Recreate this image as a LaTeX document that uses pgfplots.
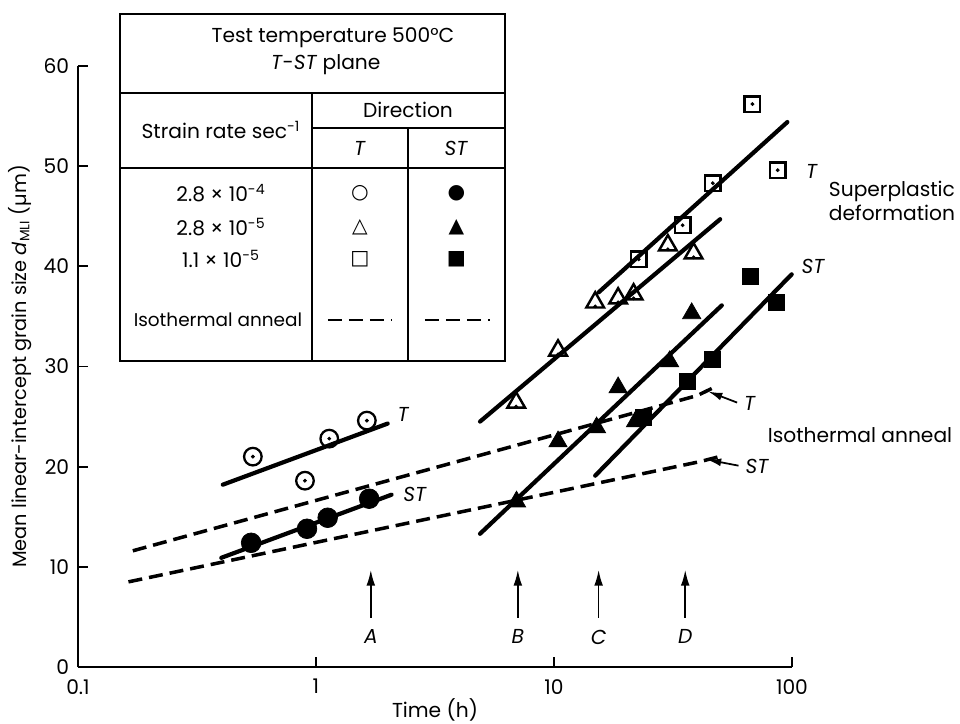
\documentclass[border=0pt]{standalone}
\usepackage{fontspec}
\setmainfont{Poppins}
\newfontfamily\symfont{DejaVu Sans}
\usepackage{pgfplots}
\usepackage{pgfplotstable}
\pgfplotsset{compat=1.18}
\usetikzlibrary{arrows.meta}

% open/filled markers: T and ST directions
\pgfplotstableread{
x y
0.543 21.0
0.899 18.6
1.137 22.8
1.636 24.6
}\opencirc
\pgfplotstableread{
x y
0.534 12.4
0.917 13.8
1.12 14.9
1.673 16.8
}\fillcirc
\pgfplotstableread{
x y
6.94 26.4
10.4 31.6
14.9 36.4
18.6 36.8
21.6 37.2
30.1 42.1
38.6 41.3
}\opentri
\pgfplotstableread{
x y
6.96 16.5
10.4 22.5
15.1 23.9
18.6 27.9
22.0 24.5
30.6 30.5
37.9 35.3
}\filltri
\pgfplotstableread{
x y
22.7 40.7
34.7 44.1
46.5 48.3
68.2 56.2
87.1 49.6
}\opensq
\pgfplotstableread{
x y
23.8 24.9
36.2 28.5
46.1 30.7
66.7 39.0
86.3 36.4
}\fillsq

\begin{document}
\fontsize{11.5}{13.5}\selectfont
\begin{tikzpicture}
\begin{axis}[
  scale only axis, width=14.28cm, height=12.02cm,
  xmode=log, xmin=0.1, xmax=100, ymin=0, ymax=60,
  axis x line*=bottom, axis y line*=left,
  axis line style={line width=1.6pt,-},
  xtick={0.1,1,10,100}, xticklabels={0.1,1,10,100},
  xminorticks=false,
  ytick={0,10,...,60},
  tick align=inside, major tick length=0.2cm,
  tick style={line width=1pt,black},
  /pgf/number format/assume math mode=true,
  tick label style={font=\fontsize{11.5}{13.5}\selectfont},
  xticklabel style={yshift=-3pt},
  yticklabel style={xshift=-1pt},
  xlabel={Time (h)},
  ylabel={Mean linear-intercept grain size \textit{d}\textsubscript{MLI} (µm)},
  xlabel style={at={(rel axis cs:0.5,-0.0715)},anchor=center},
  ylabel style={at={(rel axis cs:-0.0812,0.5)},anchor=center,font=\fontsize{11}{13}\selectfont},
  clip=false,
]
% fitted lines
\addplot[line width=2.4pt,line cap=round] coordinates {(0.406,18.2) (2.00,24.3)};
\addplot[line width=2.4pt,line cap=round] coordinates {(0.400,10.9) (2.077,17.2)};
\addplot[line width=2.4pt,line cap=round] coordinates {(4.89,24.5) (49.9,44.7)};
\addplot[line width=2.4pt,line cap=round] coordinates {(15.4,37.4) (95.6,54.4)};
\addplot[line width=2.4pt,line cap=round] coordinates {(4.89,13.3) (50.7,36.1)};
\addplot[line width=2.4pt,line cap=round] coordinates {(14.9,19.1) (99.7,39.2)};
% isothermal anneal
\addplot[line width=2pt,dash pattern=on 0.28cm off 0.14cm] coordinates {(0.17,11.6) (40,27.1) (46,27.8)};
\addplot[line width=2pt,dash pattern=on 0.28cm off 0.14cm] coordinates {(0.163,8.5) (41,20.5) (51.4,21.1)};

% markers
\addplot[only marks,mark=*,mark size=5.6pt,fill=black] table {\fillcirc};
\addplot[only marks,mark=triangle*,mark size=6pt,fill=black] table {\filltri};
\addplot[only marks,mark=square*,mark size=4.6pt,fill=black] table {\fillsq};
\addplot[only marks,mark=o,mark size=5pt,mark options={line width=1.3pt,fill=white}] table {\opencirc};
\addplot[only marks,mark=triangle,mark size=5.8pt,mark options={line width=1.4pt,fill=white}] table {\opentri};
\addplot[only marks,mark=square,mark size=4.4pt,mark options={line width=1.4pt,fill=white}] table {\opensq};
\addplot[only marks,mark=*,mark size=0.9pt] table {\opencirc};
\addplot[only marks,mark=*,mark size=0.9pt] table[y expr=\thisrow{y}-0.4] {\opentri};
\addplot[only marks,mark=*,mark size=0.9pt] table {\opensq};

% arrows A-D
\foreach \xx/\lab in {1.70/A,7.05/B,15.4/C,35.6/D}{
  \edef\temp{\noexpand\draw[-{Latex[length=9pt,width=5pt]},line width=1pt] (axis cs:\xx,4.9) -- (axis cs:\xx,9.7);
    \noexpand\node[font=\noexpand\itshape] at (axis cs:\xx,3.0) {\lab};}
  \temp
}

% line labels
\node[font=\itshape] at (axis cs:2.32,25.2) {T};
\node[font=\itshape] at (axis cs:2.60,17.2) {ST};
\node[font=\itshape] at (axis cs:121,49.5) {T};
\node[font=\itshape] at (axis cs:122.5,40.0) {ST};
\draw[-{Latex[length=8pt,width=4.5pt]},line width=1pt] (axis cs:58.8,26.4) -- (axis cs:44.5,27.5);
\node[font=\itshape,anchor=west] at (axis cs:58.8,26.3) {T};
\draw[-{Latex[length=8pt,width=4.5pt]},line width=1pt] (axis cs:59.6,20.1) -- (axis cs:44,20.7);
\node[font=\itshape,anchor=west] at (axis cs:59.6,20.0) {ST};
\node[align=center] at (rel axis cs:1.140,0.775) {Superplastic\\deformation};
\node at (rel axis cs:1.0952,0.386) {Isothermal anneal};

% key table
\draw[line width=1.3pt,fill=white] (rel axis cs:0.0588,0.5092) rectangle (rel axis cs:0.5980,1.0865);
\draw[line width=1.3pt] (rel axis cs:0.0588,0.9551) -- (rel axis cs:0.5980,0.9551);
\draw[line width=1.3pt] (rel axis cs:0.3277,0.9551) -- (rel axis cs:0.3277,0.5092);
\draw[line width=1.3pt] (rel axis cs:0.3277,0.8968) -- (rel axis cs:0.5980,0.8968);
\draw[line width=1.3pt] (rel axis cs:0.0588,0.8303) -- (rel axis cs:0.5980,0.8303);
\draw[line width=1.3pt] (rel axis cs:0.4622,0.8968) -- (rel axis cs:0.4622,0.5092);
\node at (rel axis cs:0.357,1.0466) {Test temperature 500°C};
\node at (rel axis cs:0.347,1.0017) {\textit{T}-\textit{ST} plane};
\node at (rel axis cs:0.2003,0.8935) {Strain rate sec\textsuperscript{-1}};
\node at (rel axis cs:0.4622,0.9268) {Direction};
\node at (rel axis cs:0.395,0.8636) {\textit{T}};
\node at (rel axis cs:0.530,0.8636) {\textit{ST}};
\node at (rel axis cs:0.2003,0.7887) {2.8 × 10\textsuperscript{-4}};
\node at (rel axis cs:0.2003,0.7321) {2.8 × 10\textsuperscript{-5}};
\node at (rel axis cs:0.2003,0.6789) {1.1 × 10\textsuperscript{-5}};
\node[font=\fontsize{10.5}{12}\selectfont] at (rel axis cs:0.1960,0.5774) {Isothermal anneal};
\node[font=\symfont] at (rel axis cs:0.395,0.7887) {○};
\node[font=\symfont] at (rel axis cs:0.395,0.7321) {△};
\node[font=\symfont] at (rel axis cs:0.395,0.6789) {□};
\node[font=\symfont] at (rel axis cs:0.530,0.7887) {●};
\node[font=\symfont] at (rel axis cs:0.530,0.7321) {▲};
\node[font=\symfont] at (rel axis cs:0.530,0.6789) {■};
\draw[line width=1.3pt,dash pattern=on 0.28cm off 0.14cm] (rel axis cs:0.350,0.5774) -- (rel axis cs:0.440,0.5774);
\draw[line width=1.3pt,dash pattern=on 0.28cm off 0.14cm] (rel axis cs:0.486,0.5774) -- (rel axis cs:0.577,0.5774);

\coordinate (bbSW) at (rel axis cs:-0.1092,-0.0948);
\coordinate (bbNE) at (rel axis cs:1.2353,1.1098);
\end{axis}
\pgfresetboundingbox
\path[use as bounding box] (bbSW) rectangle (bbNE);
\end{tikzpicture}
\end{document}
